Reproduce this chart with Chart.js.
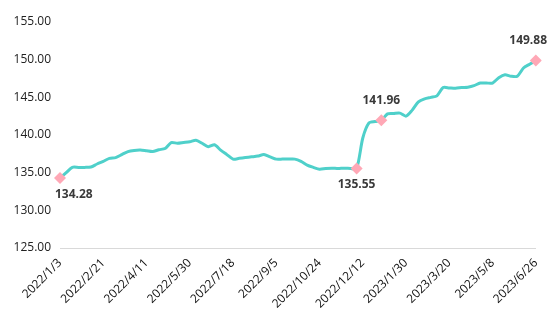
<!DOCTYPE html>
<html>
<head>
<meta charset="utf-8">
<script src="https://cdn.jsdelivr.net/npm/chart.js@4/dist/chart.umd.min.js"></script>
<style>
  html,body{margin:0;padding:0;background:#fff;}
  #wrap{width:554px;height:324px;position:relative;}
</style>
</head>
<body>
<div id="wrap"><canvas id="c" width="554" height="324"></canvas></div>
<script>
const categories = [
  '2022/1/3','2022/1/10','2022/1/17','2022/1/24','2022/1/31','2022/2/7','2022/2/14',
  '2022/2/21','2022/2/28','2022/3/7','2022/3/14','2022/3/21','2022/3/28','2022/4/4',
  '2022/4/11','2022/4/18','2022/4/25','2022/5/2','2022/5/9','2022/5/16','2022/5/23',
  '2022/5/30','2022/6/6','2022/6/13','2022/6/20','2022/6/27','2022/7/4','2022/7/11',
  '2022/7/18','2022/7/25','2022/8/1','2022/8/8','2022/8/15','2022/8/22','2022/8/29',
  '2022/9/5','2022/9/12','2022/9/19','2022/9/26','2022/10/3','2022/10/10','2022/10/17',
  '2022/10/24','2022/10/31','2022/11/7','2022/11/14','2022/11/21','2022/11/28','2022/12/5',
  '2022/12/12','2022/12/19','2022/12/26','2023/1/2','2023/1/9','2023/1/16','2023/1/23',
  '2023/1/30','2023/2/6','2023/2/13','2023/2/20','2023/2/27','2023/3/6','2023/3/13',
  '2023/3/20','2023/3/27','2023/4/3','2023/4/10','2023/4/17','2023/4/24','2023/5/1',
  '2023/5/8','2023/5/15','2023/5/22','2023/5/29','2023/6/5','2023/6/12','2023/6/19',
  '2023/6/26'
];
const values = [
  134.28,135.00,135.71,135.70,135.70,135.75,136.15,
  136.50,136.90,137.00,137.40,137.80,137.95,138.00,
  137.90,137.80,138.05,138.20,139.00,138.90,139.00,
  139.10,139.30,138.90,138.45,138.70,138.00,137.40,
  136.80,136.90,137.00,137.10,137.20,137.40,137.10,
  136.80,136.80,136.80,136.80,136.50,136.00,135.70,
  135.45,135.55,135.60,135.55,135.60,135.55,135.55,
  139.60,141.60,141.80,141.96,142.80,142.85,142.90,
  142.50,143.30,144.40,144.80,145.00,145.20,146.30,
  146.25,146.20,146.30,146.35,146.55,146.90,146.90,
  146.90,147.60,148.00,147.80,147.80,148.90,149.40,
  149.88
];
const highlighted = [0, 48, 52, 77];
const labelPlacement = ['below', 'below', 'above', 'above'];
const yTicks = { min: 125, max: 155, step: 5 };
const tickEvery = 7;

const pointRadii = values.map((v, i) => highlighted.includes(i) ? 6 : 0);

const valueLabels = {
  id: 'valueLabels',
  afterDatasetsDraw(chart) {
    const ctx = chart.ctx;
    const meta = chart.getDatasetMeta(0);
    const area = chart.chartArea;
    ctx.save();
    ctx.font = 'bold 12px "Open Sans"';
    ctx.fillStyle = '#3a3a3a';
    ctx.textAlign = 'center';
    ctx.textBaseline = 'middle';
    highlighted.forEach((idx, k) => {
      const pt = meta.data[idx];
      const txt = values[idx].toFixed(2);
      const w = ctx.measureText(txt).width;
      let x = pt.x;
      x = Math.max(x, area.left - 5 + w / 2);
      x = Math.min(x, chart.width - 7 - w / 2);
      const y = labelPlacement[k] === 'below' ? pt.y + 16 : pt.y - 20;
      ctx.fillText(txt, x, y);
    });
    ctx.restore();
  }
};

new Chart(document.getElementById('c'), {
  type: 'line',
  data: {
    labels: categories,
    datasets: [{
      data: values,
      borderColor: '#4fd0ca',
      borderWidth: 3,
      tension: 0.25,
      pointStyle: 'rectRot',
      pointRadius: pointRadii,
      pointHoverRadius: pointRadii,
      pointBackgroundColor: '#ffa8b6',
      pointBorderColor: '#ffa8b6',
      pointBorderWidth: 0,
      fill: false
    }]
  },
  options: {
    responsive: false,
    animation: false,
    devicePixelRatio: 1,
    layout: { padding: { top: 22, right: 13, bottom: 0, left: 0 } },
    plugins: { legend: { display: false }, tooltip: { enabled: false } },
    scales: {
      x: {
        grid: { display: false, drawTicks: false },
        border: { display: true, color: '#d9d9d9', width: 1 },
        afterFit: s => { s.height = 76; },
        ticks: {
          autoSkip: false,
          maxRotation: 45,
          minRotation: 45,
          padding: 8,
          color: '#111',
          font: { family: '"Open Sans"', size: 12 },
          callback: function(v, i) { return i % tickEvery === 0 ? categories[i] : null; }
        }
      },
      y: {
        min: yTicks.min,
        max: yTicks.max,
        grid: { display: false, drawTicks: false },
        border: { display: false },
        afterFit: s => { s.width = 60; },
        ticks: {
          stepSize: yTicks.step,
          padding: 9,
          color: '#222',
          font: { family: '"Open Sans"', size: 12 },
          callback: v => v.toFixed(2)
        }
      }
    }
  },
  plugins: [valueLabels]
});
</script>
</body>
</html>
